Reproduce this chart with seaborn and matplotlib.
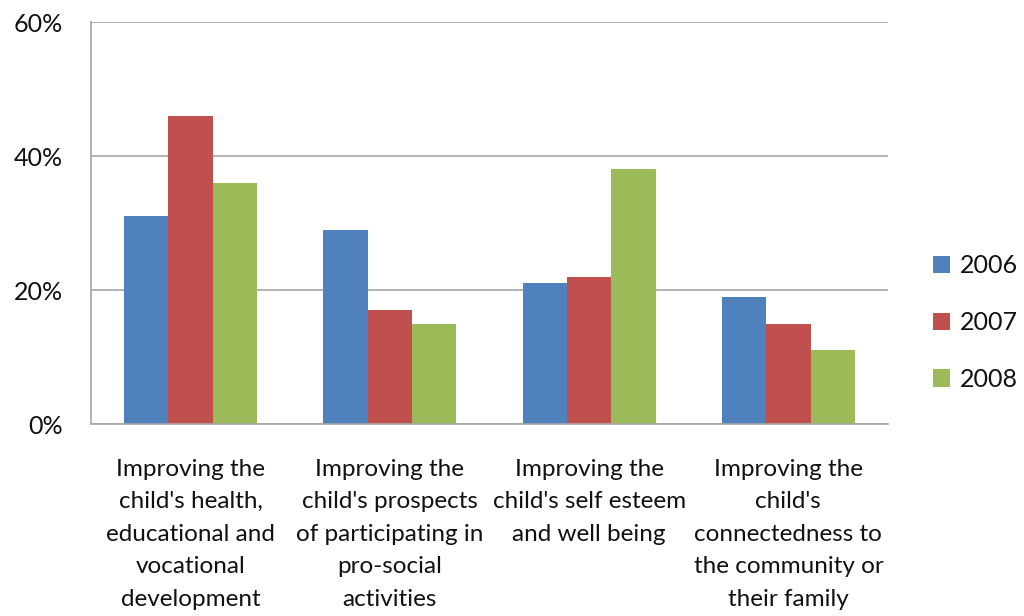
import matplotlib
matplotlib.use("Agg")
import matplotlib.pyplot as plt
from matplotlib.ticker import FixedLocator, PercentFormatter
import seaborn as sns
import pandas as pd

categories = [
    "Improving the\nchild's health,\neducational and\nvocational\ndevelopment",
    "Improving the\nchild's prospects\nof participating in\npro-social\nactivities",
    "Improving the\nchild's self esteem\nand well being",
    "Improving the\nchild's\nconnectedness to\nthe community or\ntheir family",
]
years = ["2006", "2007", "2008"]
values_2006 = [31, 29, 21, 19]
values_2007 = [46, 17, 22, 15]
values_2008 = [36, 15, 38, 11]
colors = ["#4F81BD", "#C0504D", "#9BBB59"]

rows = []
for year, vals in zip(years, [values_2006, values_2007, values_2008]):
    for cat, v in zip(categories, vals):
        rows.append({"category": cat, "year": year, "value": v})
df = pd.DataFrame(rows)

sns.set_theme(style="white")
plt.rcParams["font.family"] = ["Lato", "DejaVu Sans"]

fig = plt.figure(figsize=(10.24, 6.16), dpi=100)
ax = fig.add_axes([91 / 1024, 1 - 424 / 616, (888 - 91) / 1024, (424 - 22) / 616])

sns.barplot(data=df, x="category", y="value", hue="year", palette=colors,
            width=0.667, saturation=1, ax=ax, errorbar=None, legend=True,
            linewidth=0, edgecolor="none")

grey = "#A6A6A6"
ax.set_ylim(0, 60)
ax.set_xlim(-0.5, len(categories) - 0.5)
ax.set_yticks([0, 20, 40, 60])
ax.yaxis.set_major_formatter(PercentFormatter(decimals=0))
ax.yaxis.grid(True, color=grey, linewidth=1.2)
ax.set_axisbelow(True)

# category labels at centres, tick marks on group boundaries
ax.xaxis.set_major_locator(FixedLocator([i - 0.5 for i in range(len(categories) + 1)]))
ax.xaxis.set_minor_locator(FixedLocator(list(range(len(categories)))))
ax.set_xticklabels([""] * (len(categories) + 1))
ax.set_xticklabels(categories, minor=True)
ax.tick_params(axis="x", which="major", length=6, width=1.2, color=grey, direction="out")
ax.tick_params(axis="x", which="minor", length=0, pad=25, labelsize=17.5,
               labelcolor="#111111")
ax.tick_params(axis="y", length=8, width=1.2, color=grey, direction="out",
               labelsize=18, pad=12, labelcolor="#111111")
for lbl in ax.get_xticklabels(minor=True):
    lbl.set_linespacing(1.68)

ax.set_xlabel("")
ax.set_ylabel("")
for side in ["top", "right"]:
    ax.spines[side].set_visible(False)
for side in ["left", "bottom"]:
    ax.spines[side].set_color(grey)
    ax.spines[side].set_linewidth(1.2)

leg = ax.legend(loc="center left", bbox_to_anchor=(1.056, 0.252), frameon=False,
                fontsize=18, handlelength=0.7, handleheight=0.7,
                handletextpad=0.4, labelspacing=1.35, borderpad=0,
                borderaxespad=0, title=None)
for t in leg.get_texts():
    t.set_color("#111111")

fig.savefig("out.png", dpi=100)
